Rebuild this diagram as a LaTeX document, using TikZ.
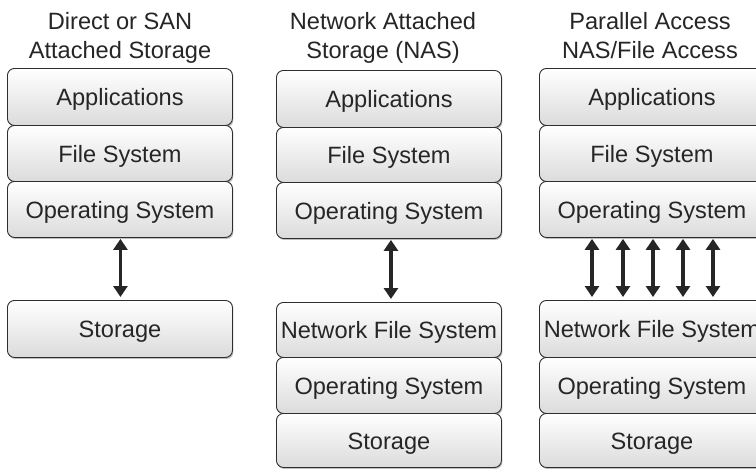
\documentclass[tikz,border=0pt]{standalone}
\usepackage{fontspec}
\setmainfont{Liberation Sans}
\usetikzlibrary{arrows.meta,shadows}
\definecolor{ink}{HTML}{262626}
\definecolor{edge}{HTML}{2E2E2E}
\begin{document}
\begin{tikzpicture}[x=1pt,y=1pt,
  layer/.style={draw=edge, line width=0.9pt, rounded corners=7pt,
    top color=white, middle color=white!97!gray, bottom color=gray!28,
    minimum width=225pt, anchor=north west, inner sep=0pt, text=ink,
    text height=18pt, text depth=0pt,
    font=\fontsize{23.6}{28}\selectfont,
    drop shadow={shadow xshift=1pt, shadow yshift=-1.5pt, opacity=0.5}},
  title/.style={align=center, text=ink, inner sep=0pt, font=\fontsize{23.6}{29}\selectfont},
  link/.style={draw=ink, line width=3.8pt, shorten <=1pt, shorten >=3pt,
    {Triangle[width=14pt,length=11pt]}-{Triangle[width=14pt,length=11pt]}}
]
\useasboundingbox (0,0) rectangle (756,-469);
\fill[white] (0,0) rectangle (756,-469);
\clip (0,0) rectangle (756,-469);

% titles
\node[title] (t1) at (120,-37.5) {Direct or SAN\\Attached Storage};
\node[title] (t2) at (383,-37.5) {Network Attached\\Storage (NAS)};
\node[title] (t3) at (650,-36) {Parallel Access\\NAS/File Access};

% column 1
\node[layer, minimum height=57pt] (app1) at (7,-68) {Applications};
\node[layer, minimum height=56pt] (fs1) at (7,-125) {File System};
\node[layer, minimum height=56pt] (os1) at (7,-181) {Operating System};
\node[layer, minimum height=57pt] (st1) at (7,-300) {Storage};

% column 2
\node[layer, minimum height=57pt] (app2) at (276,-70) {Applications};
\node[layer, minimum height=55pt] (fs2) at (276,-127) {File System};
\node[layer, minimum height=56pt] (os2) at (276,-182) {Operating System};
\node[layer, minimum height=55pt] (nfs2) at (276,-302) {Network File System};
\node[layer, minimum height=56pt] (nos2) at (276,-357) {Operating System};
\node[layer, minimum height=54pt] (st2) at (276,-413) {Storage};

% column 3
\node[layer, minimum height=57pt] (app3) at (539,-68) {Applications};
\node[layer, minimum height=56pt] (fs3) at (539,-125) {File System};
\node[layer, minimum height=56pt] (os3) at (539,-181) {Operating System};
\node[layer, minimum height=57pt] (nfs3) at (539,-300) {Network File System};
\node[layer, minimum height=56pt] (nos3) at (539,-357) {Operating System};
\node[layer, minimum height=54pt] (st3) at (539,-413) {Storage};

% connectors
\draw[link] ([xshift=0.5pt]os1.south) -- ([xshift=0.5pt]st1.north);
\draw[link] ([xshift=2pt]os2.south) -- ([xshift=2pt]nfs2.north);
\foreach \dx in {53,84,114,144,174}
  \draw[link] ([xshift=\dx pt]os3.south west) -- ([xshift=\dx pt]nfs3.north west);
\end{tikzpicture}
\end{document}
